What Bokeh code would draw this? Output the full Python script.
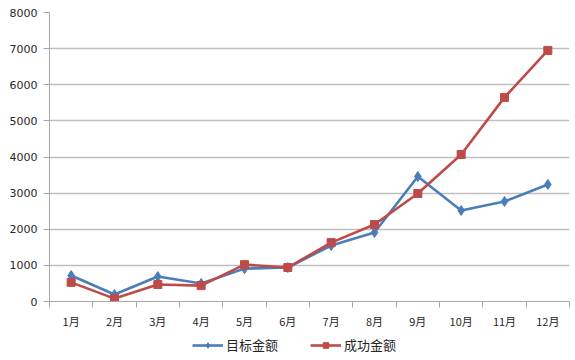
from bokeh.plotting import figure
from bokeh.layouts import column
from bokeh.models import FixedTicker, Legend, LegendItem, Range1d
from bokeh.embed import file_html
from bokeh.resources import INLINE

months = ["1月", "2月", "3月", "4月", "5月", "6月", "7月", "8月", "9月", "10月", "11月", "12月"]
target = [720, 195, 690, 500, 910, 940, 1550, 1910, 3460, 2520, 2770, 3240]
success = [530, 80, 470, 440, 1020, 940, 1630, 2130, 2990, 4070, 5650, 6950]
y_ticks = [0, 1000, 2000, 3000, 4000, 5000, 6000, 7000, 8000]
series_names = ["目标金额", "成功金额"]

xs = list(range(1, len(months) + 1))

p = figure(width=570, height=331, output_backend="svg", toolbar_location=None,
           x_range=Range1d(0.5, 12.5), y_range=Range1d(0, 8000),
           min_border_left=49, min_border_right=1, min_border_top=12, min_border_bottom=20)
p.outline_line_color = None
p.background_fill_color = "white"
p.border_fill_color = "white"

# y axis
p.yaxis.ticker = FixedTicker(ticks=y_ticks)
p.yaxis.axis_line_color = "#a6a6a6"
p.yaxis.major_tick_line_color = "#a6a6a6"
p.yaxis.major_tick_out = 6
p.yaxis.major_tick_in = 0
p.yaxis.minor_tick_line_color = None
p.yaxis.major_label_text_font = "DejaVu Sans"
p.yaxis.major_label_text_font_size = "11px"
p.yaxis.major_label_text_color = "#262626"
p.yaxis.major_label_standoff = 6

# x axis: labels at centres, ticks at boundaries
p.xaxis.ticker = FixedTicker(ticks=xs, minor_ticks=[i + 0.5 for i in range(0, 13)])
p.xaxis.major_label_overrides = {i: m for i, m in zip(xs, months)}
p.xaxis.axis_line_color = "#a6a6a6"
p.xaxis.major_tick_line_color = None
p.xaxis.minor_tick_line_color = "#a6a6a6"
p.xaxis.minor_tick_out = 6
p.xaxis.minor_tick_in = 0
p.xaxis.major_label_text_font = "Noto Sans CJK SC"
p.xaxis.major_label_text_font_size = "11px"
p.xaxis.major_label_text_color = "#262626"
p.xaxis.major_label_standoff = 5

p.xgrid.grid_line_color = None
p.ygrid.grid_line_color = "#bfbfbf"
p.ygrid.grid_line_width = 1.5

blue = "#4a7ebb"
red = "#be4b48"

p.line(xs, target, line_color=blue, line_width=2.6)
p.scatter(xs, target, marker="diamond", size=10, fill_color=blue, line_color=blue)
p.line(xs, success, line_color=red, line_width=2.6)
p.scatter(xs, success, marker="square", size=8, fill_color=red, line_color=red)

# legend strip below the chart (its swatches repeat the series styles, drawn off-range)
lf = figure(width=570, height=29, output_backend="svg", toolbar_location=None,
            x_range=Range1d(0, 1), y_range=Range1d(0, 1),
            x_axis_location=None, y_axis_location=None,
            min_border_left=0, min_border_right=0, min_border_top=0, min_border_bottom=0)
lf.outline_line_color = None
lf.xgrid.grid_line_color = None
lf.ygrid.grid_line_color = None
off = [-10, -9]
g1 = lf.line(off, off, line_color=blue, line_width=2.6)
s1 = lf.scatter(off, off, marker="diamond", size=8, fill_color=blue, line_color=blue)
g2 = lf.line(off, off, line_color=red, line_width=2.6)
s2 = lf.scatter(off, off, marker="square", size=7, fill_color=red, line_color=red)

legend = Legend(items=[LegendItem(label=series_names[0], renderers=[g1, s1]),
                       LegendItem(label=series_names[1], renderers=[g2, s2])],
                orientation="horizontal", location=(143, 6),
                label_text_font="Noto Sans CJK SC", label_text_font_size="13px",
                label_text_color="#262626", glyph_width=31, glyph_height=14,
                spacing=32, label_standoff=3, border_line_color=None,
                background_fill_alpha=0, padding=0, margin=0)
lf.add_layout(legend, "center")

layout = column(p, lf, spacing=0)
open("out.html", "w").write(file_html(layout, INLINE))
